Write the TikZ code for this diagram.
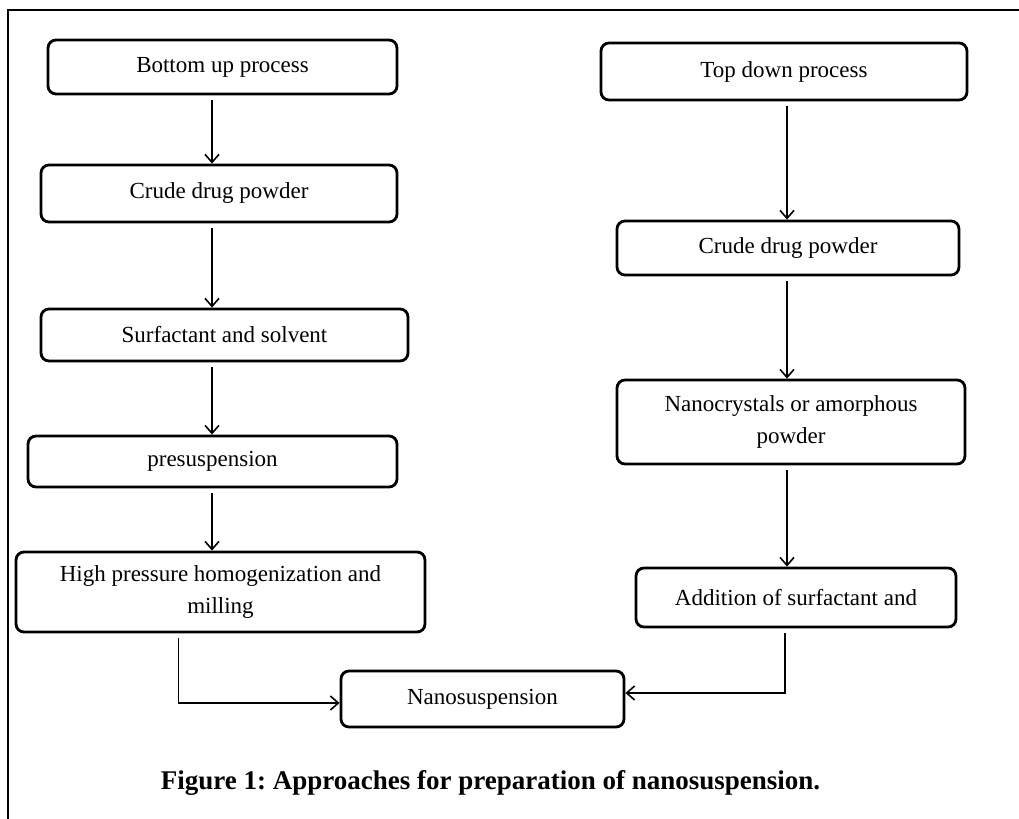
\documentclass[tikz,border=0pt]{standalone}
\usepackage{fontspec}
\setmainfont{Liberation Serif}
\usetikzlibrary{arrows.meta}
\frenchspacing

\begin{document}
\begin{tikzpicture}[
    x=0.5pt, y=-0.5pt,
    procbox/.style={draw, line width=1.4pt, rounded corners=4pt, align=center,
        inner sep=0pt, font=\fontsize{11.5}{16}\selectfont},
    flow/.style={-{Straight Barb[length=4pt,width=7pt]}, line width=0.8pt, shorten <=2.5pt}
    ]
    \useasboundingbox (0,0) rectangle (1019,819);
    \draw[line width=1.2pt] (1019,10) -- (8,10) -- (8,819);

    % bottom up column
    \node[procbox, minimum width=174.5pt, minimum height=27pt] (bu1) at (222.5,67) {Bottom up process};
    \node[procbox, minimum width=178pt, minimum height=28.5pt] (bu2) at (219,193.5) {Crude drug powder};
    \node[procbox, minimum width=183.5pt, minimum height=26pt] (bu3) at (224.5,335) {Surfactant and solvent};
    \node[procbox, minimum width=184.5pt, minimum height=25.5pt] (bu4) at (212.5,461.5) {presuspension};
    \node[procbox, minimum width=204.5pt, minimum height=40pt] (bu5) at (220.5,592) {High pressure homogenization and\\milling};

    % top down column
    \node[procbox, minimum width=183pt, minimum height=28.5pt] (td1) at (784,71.5) {Top down process};
    \node[procbox, minimum width=171pt, minimum height=27pt] (td2) at (788,248) {Crude drug powder};
    \node[procbox, minimum width=174pt, minimum height=42pt] (td3) at (791,422) {Nanocrystals or amorphous\\powder};
    \node[procbox, minimum width=160pt, minimum height=29.5pt] (td4) at (796,597.5) {Addition of surfactant and};

    \node[procbox, minimum width=141.5pt, minimum height=28pt] (nano) at (482.5,699) {Nanosuspension};

    \coordinate (lcol) at (212,0);
    \coordinate (rcol) at (787,0);
    \foreach \a/\b in {bu1/bu2,bu2/bu3,bu3/bu4,bu4/bu5}
        \draw[flow] (\a.south -| lcol) -- (\b.north -| lcol);
    \foreach \a/\b in {td1/td2,td2/td3,td3/td4}
        \draw[flow] (\a.south -| rcol) -- (\b.north -| rcol);
    \draw[flow] ([xshift=-21pt]bu5.south) |- ([yshift=-2pt]nano.west);
    \draw[flow] ([xshift=-5.5pt]td4.south) |- ([yshift=3pt]nano.east);

    \node[font=\bfseries\fontsize{13.5}{16}\selectfont] (cap) at (490.5,783)
        {Figure 1: Approaches for preparation of nanosuspension.};
\end{tikzpicture}
\end{document}
